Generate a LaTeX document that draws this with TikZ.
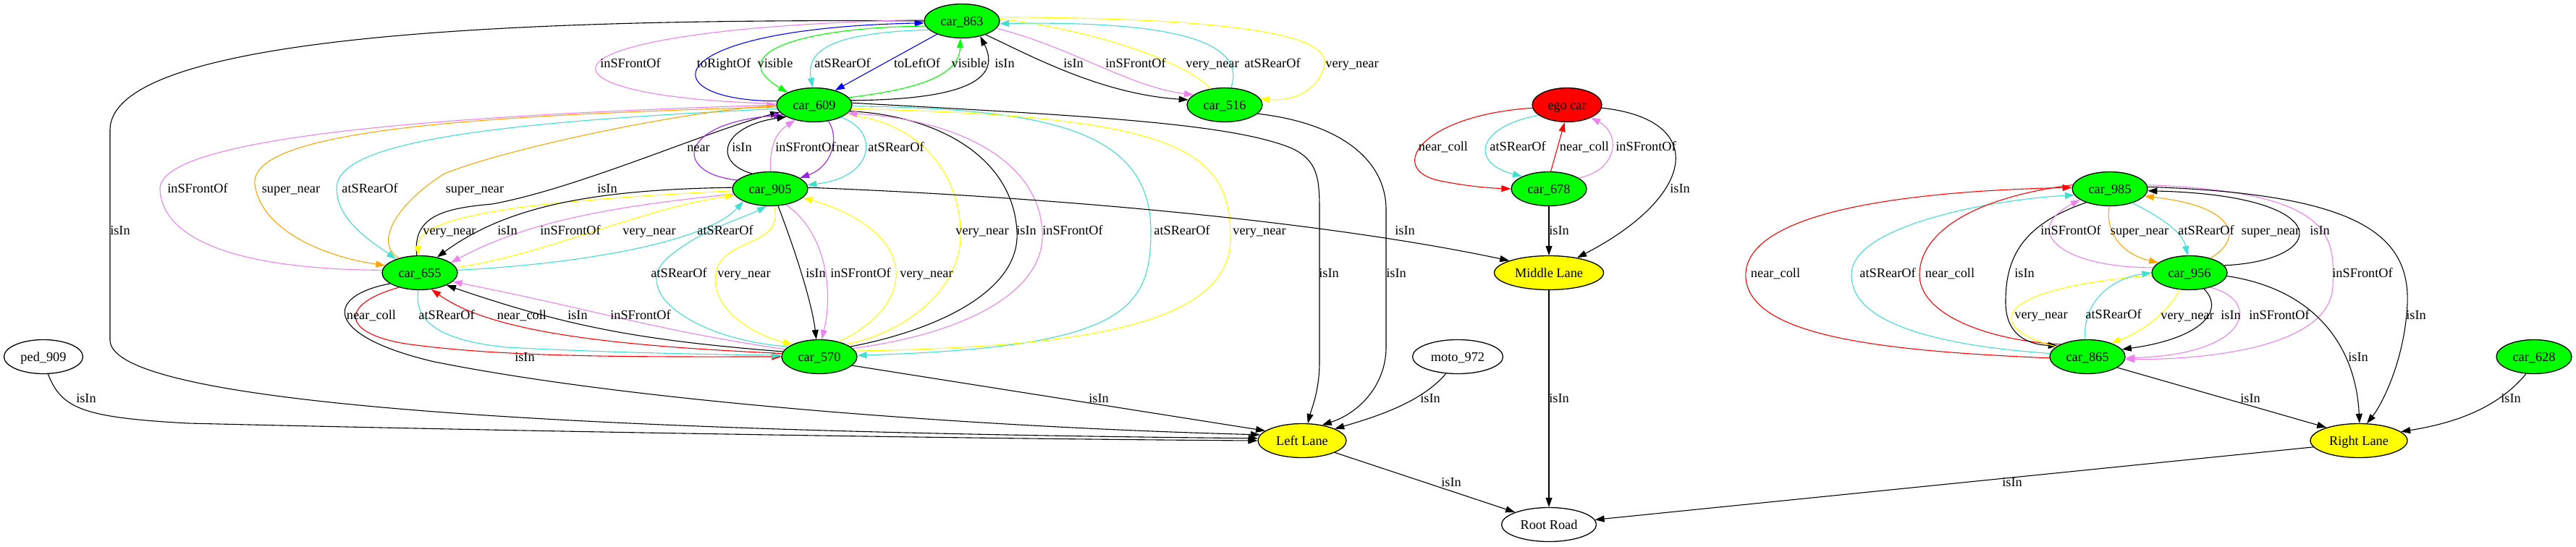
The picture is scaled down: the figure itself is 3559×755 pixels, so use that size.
\documentclass[tikz,border=0pt]{standalone}
\usepackage{fontspec}
\setmainfont{Liberation Serif}
\usetikzlibrary{shapes.geometric,arrows.meta}
\definecolor{gvgreen}{RGB}{0,255,0}
\definecolor{gvred}{RGB}{255,0,0}
\definecolor{gvyellow}{RGB}{255,255,0}
\definecolor{gvcyan}{RGB}{64,224,208}
\definecolor{gvviolet}{RGB}{238,130,238}
\definecolor{gvorange}{RGB}{255,165,0}
\definecolor{gvpurple}{RGB}{160,32,240}
\definecolor{gvblue}{RGB}{0,0,255}
\tikzset{
  gvfont/.style={font=\fontsize{18.3}{20}\selectfont},
  nd/.style={ellipse, draw=black, line width=1.3pt, inner sep=0pt, minimum height=47pt, text height=12pt, text depth=0pt, gvfont},
  gnode/.style={nd, fill=gvgreen, minimum width=104pt},
  ynode/.style={nd, fill=gvyellow},
  wnode/.style={nd, fill=white},
  rnode/.style={nd, fill=gvred},
  lbl/.style={inner sep=0pt, text height=12pt, text depth=0pt, gvfont},
  ed/.style={line width=1.1pt},
  arr/.style={-{Triangle[length=13pt,width=9pt]}},
}
\begin{document}
\begin{tikzpicture}[x=1pt,y=-1pt]
\fill[white] (0,0) rectangle (3559,755);
\useasboundingbox (0,0) rectangle (3559,755);
% nodes
\node[gnode] (c863) at (1329,29) {car\_863};
\node[gnode] (c609) at (1125,145) {car\_609};
\node[gnode] (c516) at (1692,145) {car\_516};
\node[gnode] (c905) at (1064,261) {car\_905};
\node[gnode] (c655) at (580,377) {car\_655};
\node[gnode] (c570) at (1132,493) {car\_570};
\node[wnode, minimum width=109pt] (ped) at (60,493) {ped\_909};
\node[ynode, minimum width=122pt] (LL) at (1799,609) {Left Lane};
\node[wnode, minimum width=125pt] (moto) at (2014,493) {moto\_972};
\node[rnode, minimum width=96pt] (ego) at (2165,145) {ego car};
\node[gnode] (c678) at (2140,261) {car\_678};
\node[ynode, minimum width=151pt] (ML) at (2140,377) {Middle Lane};
\node[wnode, minimum width=131pt] (RR) at (2140,725) {Root Road};
\node[gnode] (c985) at (2915,261) {car\_985};
\node[gnode] (c956) at (3025,377) {car\_956};
\node[gnode] (c865) at (2884,493) {car\_865};
\node[ynode, minimum width=134pt] (RL) at (3259,609) {Right Lane};
\node[gnode] (c628) at (3501,493) {car\_628};

% ---- edges: car_863 / car_609 / car_516
\draw[ed,gvblue,arr] (c609.174) .. controls (900,140) and (900,40) .. (c863.183);
\draw[ed,gvgreen,arr] (c863.188) .. controls (1100,38) and (1000,75) .. (c609.155);
\draw[ed,gvcyan,arr] (c863.195) .. controls (1160,45) and (1112,65) .. (c609.95);
\draw[ed,gvblue,arr] (c863.208) -- (c609.35);
\draw[ed,gvgreen,arr] (c609.12) .. controls (1250,125) and (1325,110) .. (c863.265);
\draw[ed,black,arr] (c609.7) .. controls (1300,138) and (1390,120) .. (c863.320);
\draw[ed,black,arr] (c863.330) .. controls (1420,75) and (1520,130) .. (c516.172);
\draw[ed,gvviolet,arr] (c863.348) .. controls (1480,65) and (1560,120) .. (c516.162);
\draw[ed,gvyellow] (c516.130) .. controls (1630,80) and (1500,40) .. (c863.3);
\draw[ed,gvcyan,arr] (c516.70) .. controls (1730,40) and (1550,30) .. (c863.356);
\draw[ed,gvyellow,arr] (c863.6) .. controls (1650,25) and (1840,40) .. (1830,90) .. controls (1820,130) and (1780,140) .. (c516.10);
\draw[ed,black,arr] (c863.180) .. controls (700,25) and (152,50) .. (152,180) -- (152,470) .. controls (152,545) and (600,595) .. (LL.177);
\draw[ed,gvviolet] (c863.178) .. controls (700,40) and (720,135) .. (c609.178);

% ---- car_609 <-> car_655
\draw[ed,gvviolet,arr] (c655.176) .. controls (300,372) and (222,320) .. (221,260) .. controls (225,190) and (600,160) .. (c609.180);
\draw[ed,gvorange,arr] (c609.183) .. controls (650,160) and (330,180) .. (353,260) .. controls (365,320) and (450,355) .. (c655.168);
\draw[ed,gvcyan,arr] (c609.186) .. controls (650,170) and (465,200) .. (465,260) .. controls (465,305) and (515,335) .. (c655.150);
\draw[ed,gvorange] (c655.145) .. controls (515,335) and (550,280) .. (614,240) .. controls (700,205) and (950,152) .. (c609.181);
\draw[ed,black,arr] (c655.100) .. controls (570,300) and (610,288) .. (680,282) .. controls (800,260) and (980,180) .. (c609.192);

% ---- car_905 <-> car_655
\draw[ed,gvyellow,arr] (c905.183) .. controls (800,275) and (575,290) .. (c655.95);
\draw[ed,black,arr] (c905.178) .. controls (820,262) and (700,285) .. (c655.42);
\draw[ed,gvviolet,arr] (c905.188) .. controls (850,285) and (730,305) .. (c655.18);
\draw[ed,gvyellow,arr] (c655.8) .. controls (760,350) and (880,290) .. (c905.190);
\draw[ed,gvcyan,arr] (c655.4) .. controls (800,365) and (975,335) .. (c905.205);

% ---- car_905 <-> car_609
\draw[ed,gvpurple,arr] (c905.165) .. controls (930,240) and (935,170) .. (c609.198);
\draw[ed,black,arr] (c905.140) .. controls (985,225) and (995,175) .. (c609.203);
\draw[ed,gvviolet,arr] (c905.88) .. controls (1063,205) and (1070,185) .. (c609.218);
\draw[ed,gvpurple,arr] (c609.311) .. controls (1160,190) and (1150,230) .. (c905.20);
\draw[ed,gvcyan,arr] (c609.335) .. controls (1215,180) and (1210,245) .. (c905.6);

% ---- car_905 <-> car_570
\draw[ed,black,arr] (c905.295) .. controls (1100,350) and (1122,420) .. (c570.100);
\draw[ed,gvviolet,arr] (c905.315) .. controls (1140,320) and (1152,400) .. (c570.82);
\draw[ed,gvyellow,arr] (c570.38) .. controls (1270,420) and (1270,320) .. (c905.345);
\draw[ed,gvyellow,arr] (c905.283) .. controls (1085,345) and (990,325) .. (988,385) .. controls (988,435) and (1050,465) .. (c570.155);
\draw[ed,gvcyan,arr] (c570.162) .. controls (960,470) and (860,400) .. (930,350) .. controls (975,315) and (1030,300) .. (c905.258);

% ---- car_609 <-> car_570
\draw[ed,gvyellow] (c570.25) .. controls (1250,460) and (1330,400) .. (1327,320) .. controls (1325,230) and (1260,165) .. (c609.342);
\draw[ed,black] (c570.18) .. controls (1300,455) and (1410,400) .. (1405,320) .. controls (1400,220) and (1300,160) .. (c609.350);
\draw[ed,gvviolet,arr] (c570.14) .. controls (1340,460) and (1445,400) .. (1440,320) .. controls (1435,220) and (1320,165) .. (c609.346);
\draw[ed,gvcyan,arr] (c609.358) .. controls (1450,150) and (1590,180) .. (1590,320) .. controls (1590,430) and (1550,480) .. (c570.2);
\draw[ed,gvyellow] (c570.9) .. controls (1450,480) and (1700,460) .. (1700,330) .. controls (1700,210) and (1640,160) .. (c609.354);

% ---- car_655 <-> car_570
\draw[ed,gvred,arr] (c655.215) .. controls (470,420) and (470,460) .. (560,475) .. controls (700,495) and (900,493) .. (c570.180);
\draw[ed,gvcyan,arr] (c655.265) .. controls (572,440) and (600,470) .. (700,480) .. controls (850,488) and (1000,490) .. (c570.178);
\draw[ed,gvred,arr] (c570.175) .. controls (850,478) and (680,460) .. (c655.305);
\draw[ed,black,arr] (c570.172) .. controls (880,470) and (780,450) .. (c655.335);
\draw[ed,gvviolet,arr] (c570.168) .. controls (900,455) and (830,430) .. (c655.345);

% ---- to Left Lane
\draw[ed,black,arr] (c609.3) .. controls (1500,160) and (1700,170) .. (1785,205) .. controls (1820,222) and (1823,245) .. (1823,290) -- (1823,500) .. controls (1823,540) and (1812,565) .. (LL.72);
\draw[ed,black,arr] (c516.345) .. controls (1850,170) and (1915,220) .. (1915,290) -- (1915,480) .. controls (1915,530) and (1880,570) .. (LL.38);
\draw[ed,black,arr] (moto.235) .. controls (1965,555) and (1905,575) .. (LL.20);
\draw[ed,black,arr] (c570.345) -- (LL.165);
\draw[ed,black,arr] (c655.200) .. controls (445,410) and (450,465) .. (600,500) .. controls (900,560) and (1400,592) .. (LL.172);
\draw[ed,black,arr] (ped.285) .. controls (85,565) and (115,577) .. (260,585) .. controls (800,598) and (1400,607) .. (LL.180);
\draw[ed,black,arr] (LL.340) -- (RR.160);

% ---- middle
\draw[ed,gvred,arr] (ego.185) .. controls (1960,160) and (1915,235) .. (1990,250) .. controls (2030,258) and (2060,260) .. (c678.180);
\draw[ed,gvcyan,arr] (ego.200) .. controls (2040,175) and (2030,225) .. (c678.155);
\draw[ed,gvred,arr] (c678.84) -- (ego.262);
\draw[ed,gvviolet,arr] (c678.20) .. controls (2235,235) and (2240,185) .. (ego.332);
\draw[ed,black,arr] (ego.355) .. controls (2360,165) and (2345,270) .. (ML.28);
\draw[ed,black,arr] (c678.south) -- (ML.north);
\draw[ed,black,arr] (ML.south) -- (RR.north);
\draw[ed,black,arr] (c905.2) .. controls (1400,270) and (1800,300) .. (ML.163);

% ---- right cluster
\draw[ed,gvred,arr] (c865.182) .. controls (2600,485) and (2420,465) .. (2412,385) .. controls (2405,300) and (2600,265) .. (c985.178);
\draw[ed,gvcyan,arr] (c865.175) .. controls (2640,475) and (2555,435) .. (2558,378) .. controls (2560,310) and (2760,275) .. (c985.190);
\draw[ed,gvred] (c985.174) .. controls (2710,275) and (2650,330) .. (2652,382) .. controls (2655,440) and (2760,472) .. (c865.155);
\draw[ed,black,arr] (c985.210) .. controls (2795,310) and (2770,355) .. (2771,420) .. controls (2772,462) and (2800,476) .. (c865.160);
\draw[ed,gvviolet,arr] (c956.172) .. controls (2850,370) and (2790,320) .. (c985.200);
\draw[ed,gvorange,arr] (c985.268) .. controls (2908,325) and (2935,352) .. (c956.162);
\draw[ed,gvcyan,arr] (c985.328) .. controls (2985,300) and (3015,320) .. (c956.96);
\draw[ed,gvorange,arr] (c956.35) .. controls (3100,330) and (3090,285) .. (c985.348);
\draw[ed,black,arr] (c956.12) .. controls (3220,360) and (3230,270) .. (c985.357);
\draw[ed,gvviolet,arr] (c985.6) .. controls (3230,265) and (3225,330) .. (3223,395) .. controls (3220,480) and (3050,497) .. (c865.356);
\draw[ed,black,arr] (c985.3) .. controls (3250,268) and (3330,320) .. (3326,420) .. controls (3322,500) and (3290,560) .. (RL.65);
\draw[ed,gvyellow,arr] (c956.240) .. controls (2990,440) and (2950,462) .. (c865.30);
\draw[ed,gvyellow] (c865.162) .. controls (2745,455) and (2740,400) .. (c956.184);
\draw[ed,gvcyan,arr] (c865.97) .. controls (2876,420) and (2915,385) .. (c956.180);
\draw[ed,black,arr] (c956.312) .. controls (3075,430) and (3040,468) .. (c865.12);
\draw[ed,gvviolet,arr] (c956.325) .. controls (3125,415) and (3110,490) .. (c865.358);
\draw[ed,black,arr] (c956.355) .. controls (3200,400) and (3255,480) .. (RL.88);
\draw[ed,black,arr] (c865.340) -- (RL.158);
\draw[ed,black,arr] (c628.245) .. controls (3450,565) and (3390,585) .. (RL.12);
\draw[ed,black,arr] (RL.188) -- (RR.6);

% ---- labels
\node[lbl] (t1) at (1000,87) {toRightOf};
\node[lbl] (t2) at (1071,87) {visible};
\node[lbl] (t3) at (1164,87) {atSRearOf};
\node[lbl] (t4) at (1267,87) {toLeftOf};
\node[lbl] (t5) at (1339,87) {visible};
\node[lbl] (t6) at (1388,87) {isIn};
\node[lbl] (t7) at (1483,87) {isIn};
\node[lbl] (t8) at (1569,87) {inSFrontOf};
\node[lbl] (t9) at (1675,87) {very\_near};
\node[lbl] (t10) at (1758,87) {atSRearOf};
\node[lbl] (t11) at (1868,87) {very\_near};
\node[lbl] (t12) at (871,87) {inSFrontOf};
\node[lbl] (t13) at (166,318) {isIn};
\node[lbl] (t14) at (273,260) {inSFrontOf};
\node[lbl] (t15) at (402,260) {super\_near};
\node[lbl] (t16) at (511,260) {atSRearOf};
\node[lbl] (t17) at (656,260) {super\_near};
\node[lbl] (t18) at (839,260) {isIn};
\node[lbl] (t19) at (621,318) {very\_near};
\node[lbl] (t20) at (701,318) {isIn};
\node[lbl] (t21) at (788,318) {inSFrontOf};
\node[lbl] (t22) at (897,318) {very\_near};
\node[lbl] (t23) at (1002,318) {atSRearOf};
\node[lbl] (t24) at (965,203) {near};
\node[lbl] (t25) at (1025,203) {isIn};
\node[lbl] (t26) at (1113,203) {inSFrontOf};
\node[lbl] (t27) at (1171,203) {near};
\node[lbl] (t28) at (1238,203) {atSRearOf};
\node[lbl] (t29) at (938,377) {atSRearOf};
\node[lbl] (t30) at (1028,377) {very\_near};
\node[lbl] (t31) at (1127,377) {isIn};
\node[lbl] (t32) at (1189,377) {inSFrontOf};
\node[lbl] (t33) at (1280,377) {very\_near};
\node[lbl] (t34) at (1357,318) {very\_near};
\node[lbl] (t35) at (1418,318) {isIn};
\node[lbl] (t36) at (1482,318) {inSFrontOf};
\node[lbl] (t37) at (1633,318) {atSRearOf};
\node[lbl] (t38) at (1740,318) {very\_near};
\node[lbl] (t39) at (1836,377) {isIn};
\node[lbl] (t40) at (1929,377) {isIn};
\node[lbl] (t41) at (1976,550) {isIn};
\node[lbl] (t42) at (1518,550) {isIn};
\node[lbl] (t43) at (725,493) {isIn};
\node[lbl] (t44) at (119,550) {isIn};
\node[lbl] (t45) at (2005,666) {isIn};
\node[lbl] (t46) at (513,435) {near\_coll};
\node[lbl] (t47) at (617,435) {atSRearOf};
\node[lbl] (t48) at (721,435) {near\_coll};
\node[lbl] (t49) at (798,435) {isIn};
\node[lbl] (t50) at (885,435) {inSFrontOf};
\node[lbl] (t51) at (1994,202) {near\_coll};
\node[lbl] (t52) at (2097,202) {atSRearOf};
\node[lbl] (t53) at (2189,202) {near\_coll};
\node[lbl] (t54) at (2274,202) {inSFrontOf};
\node[lbl] (t55) at (2321,260) {isIn};
\node[lbl] (t56) at (2154,318) {isIn};
\node[lbl] (t57) at (2154,550) {isIn};
\node[lbl] (t58) at (1941,318) {isIn};
\node[lbl] (t59) at (2453,377) {near\_coll};
\node[lbl] (t60) at (2608,377) {atSRearOf};
\node[lbl] (t61) at (2694,377) {near\_coll};
\node[lbl] (t62) at (2797,377) {isIn};
\node[lbl] (t63) at (2861,318) {inSFrontOf};
\node[lbl] (t64) at (2956,318) {super\_near};
\node[lbl] (t65) at (3048,318) {atSRearOf};
\node[lbl] (t66) at (3137,318) {super\_near};
\node[lbl] (t67) at (3205,318) {isIn};
\node[lbl] (t68) at (3264,377) {inSFrontOf};
\node[lbl] (t69) at (3338,435) {isIn};
\node[lbl] (t70) at (3022,435) {very\_near};
\node[lbl] (t71) at (2820,434) {very\_near};
\node[lbl] (t72) at (2920,434) {atSRearOf};
\node[lbl] (t73) at (3082,435) {isIn};
\node[lbl] (t74) at (3149,435) {inSFrontOf};
\node[lbl] (t75) at (3258,493) {isIn};
\node[lbl] (t76) at (3109,550) {isIn};
\node[lbl] (t77) at (3469,550) {isIn};
\node[lbl] (t78) at (2780,666) {isIn};
\end{tikzpicture}
\end{document}
